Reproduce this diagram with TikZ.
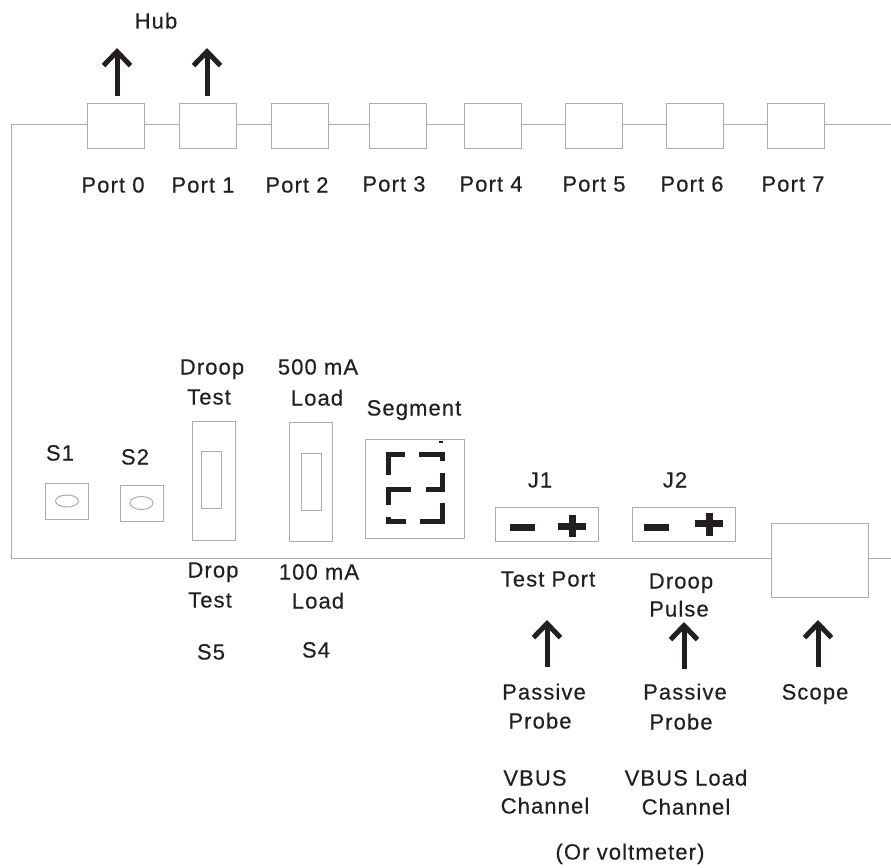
\documentclass[tikz,border=0pt]{standalone}
\usepackage{fontspec}
\setmainfont[LetterSpace=5,FakeBold=0.35]{Liberation Sans}
\usepackage{tikz}
\usetikzlibrary{arrows.meta,positioning}
\definecolor{wire}{RGB}{172,172,172}
\definecolor{ink}{RGB}{35,31,32}
\tikzset{
  box/.style={rectangle, draw=wire, line width=1pt, fill=white, inner sep=0pt, outer sep=0pt},
  portbox/.style={box, minimum width=57.5pt, minimum height=45pt},
  slidebox/.style={box, minimum width=43pt, minimum height=119pt},
  knobbox/.style={box, minimum width=43pt, minimum height=36pt},
  jackbox/.style={box, minimum width=103pt, minimum height=34pt},
  lbl/.style={text=ink, inner sep=0pt, text height=15pt, text depth=0pt, font=\fontsize{22}{24}\selectfont},
  wireline/.style={draw=wire, line width=1pt},
  sig/.style={-{Straight Barb[length=14pt,width=27pt,line width=5pt]}, draw=ink, line width=5pt},
  seg/.style={draw=ink, line width=5pt},
  sign/.style={draw=ink, line width=7pt}
}
\begin{document}
\begin{tikzpicture}[x=1pt, y=-1pt]
\useasboundingbox (0,0) rectangle (891,867);
% hub ports
\node[portbox] (port0) at (115.75,125.5) {};
\node[portbox, right=34.5pt of port0] (port1) {};
\node[portbox, right=34.5pt of port1] (port2) {};
\node[portbox, right=40.5pt of port2] (port3) {};
\node[portbox, right=37.5pt of port3] (port4) {};
\node[portbox, right=43.5pt of port4] (port5) {};
\node[portbox, right=43.5pt of port5] (port6) {};
\node[portbox, right=43.5pt of port6] (port7) {};
\node[lbl] (lport0) at (113,185) {Port 0};
\node[lbl] (lport1) at (203,185) {Port 1};
\node[lbl] (lport2) at (297,185) {Port 2};
\node[lbl] (lport3) at (394,184) {Port 3};
\node[lbl] (lport4) at (491,184) {Port 4};
\node[lbl] (lport5) at (594,184) {Port 5};
\node[lbl] (lport6) at (692,184) {Port 6};
\node[lbl] (lport7) at (793,184) {Port 7};
\node[lbl] (hub) at (156,21) {Hub};
% switches
\node[knobbox] (s1) at (67,501) {};
\node[knobbox] (s2) at (141.5,503) {};
\draw[wireline] (s1.center) ellipse (11.5pt and 6pt);
\draw[wireline] (s2.center) ellipse (11.5pt and 6.5pt);
\node[lbl] (ls1) at (60,453) {S1};
\node[lbl] (ls2) at (135,457) {S2};
\node[slidebox] (s5) at (213.5,480.5) {};
\node[box, minimum width=20pt, minimum height=57pt] (s5in) at (211,479.5) {};
\node[slidebox] (s4) at (311,481.5) {};
\node[box, minimum width=20pt, minimum height=57pt] (s4in) at (311,481.5) {};
\node[lbl] (droop) at (212,367) {Droop};
\node[lbl] (dtest) at (209,397) {Test};
\node[lbl] (load5) at (318,367) {500 mA};
\node[lbl] (load5b) at (317,398) {Load};
\node[lbl] (drop) at (213,570) {Drop};
\node[lbl] (dtest2) at (210,600) {Test};
\node[lbl] (load1) at (319,572) {100 mA};
\node[lbl] (load1b) at (318,601) {Load};
\node[lbl] (ls5) at (211,652) {S5};
\node[lbl] (ls4) at (316,650) {S4};
% segment display
\node[box, minimum width=99pt, minimum height=99pt] (segbox) at (414.5,488.5) {};
\node[lbl] (lseg) at (414,408) {Segment};
\draw[seg] (388,475) -- (388,454) -- (405,454);
\draw[seg] (419,454) -- (442,454) -- (442,461);
\draw[seg] (442,473) -- (442,489) -- (426,489);
\draw[seg] (411,489) -- (388,489) -- (388,505);
\draw[seg] (388,517) -- (388,521) -- (406,521);
\draw[seg] (420,521) -- (442,521) -- (442,503);
\draw[draw=ink, line width=2pt] (439,442) -- (443,442);
% jacks
\node[jackbox] (j1) at (547,524) {};
\node[jackbox] (j2) at (683.5,524) {};
\node[lbl] (lj1) at (540,480) {J1};
\node[lbl] (lj2) at (675,480) {J2};
\draw[sign] (510,527) -- (535,527);
\draw[sign] (558,526) -- (586,526);
\draw[sign] (572,515) -- (572,537);
\draw[sign] (644,527) -- (669,527);
\draw[sign] (695,523) -- (723,523);
\draw[sign] (709,513) -- (709,536);
\node[lbl] (ltest) at (548,579) {Test Port};
\node[lbl] (lpulse) at (681,581) {Droop};
\node[lbl] (lpulseb) at (679,609) {Pulse};
% scope
\node[box, minimum width=97pt, minimum height=74pt] (scopebox) at (819.5,560) {};
% wiring
\coordinate (topend) at (891,124);
\coordinate (corner1) at (11,124);
\coordinate (corner2) at (11,558);
\coordinate (botend) at (891,558);
\draw[wireline] (port0.west |- corner1) -- (corner1) -- (corner2) -- (scopebox.west |- corner2);
\draw[wireline] (port0.east |- corner1) -- (port1.west |- corner1);
\draw[wireline] (port1.east |- corner1) -- (port2.west |- corner1);
\draw[wireline] (port2.east |- corner1) -- (port3.west |- corner1);
\draw[wireline] (port3.east |- corner1) -- (port4.west |- corner1);
\draw[wireline] (port4.east |- corner1) -- (port5.west |- corner1);
\draw[wireline] (port5.east |- corner1) -- (port6.west |- corner1);
\draw[wireline] (port6.east |- corner1) -- (port7.west |- corner1);
\draw[wireline] (port7.east |- corner1) -- (topend);
\draw[wireline] (scopebox.east |- botend) -- (botend);
% arrows
\coordinate (a0) at (117,96);
\coordinate (a0t) at (117,48);
\coordinate (a1) at (207,96);
\coordinate (a1t) at (207,48);
\coordinate (a2) at (547,667);
\coordinate (a2t) at (547,620);
\coordinate (a3) at (684,669);
\coordinate (a3t) at (684,622);
\coordinate (a4) at (818,667);
\coordinate (a4t) at (818,620);
\draw[sig] (a0) -- (a0t);
\draw[sig] (a1) -- (a1t);
\draw[sig] (a2) -- (a2t);
\draw[sig] (a3) -- (a3t);
\draw[sig] (a4) -- (a4t);
% probes
\node[lbl] (pp1) at (544,692) {Passive};
\node[lbl] (pp1b) at (540,721) {Probe};
\node[lbl] (pp2) at (685,692) {Passive};
\node[lbl] (pp2b) at (681,722) {Probe};
\node[lbl] (lscope) at (815,692) {Scope};
\node[lbl] (vb1) at (535,778) {VBUS};
\node[lbl] (vb1b) at (545,806) {Channel};
\node[lbl] (vb2) at (686,778) {VBUS Load};
\node[lbl] (vb2b) at (686,807) {Channel};
\node[lbl] (volt) at (630,852) {(Or voltmeter)};
\end{tikzpicture}
\end{document}
